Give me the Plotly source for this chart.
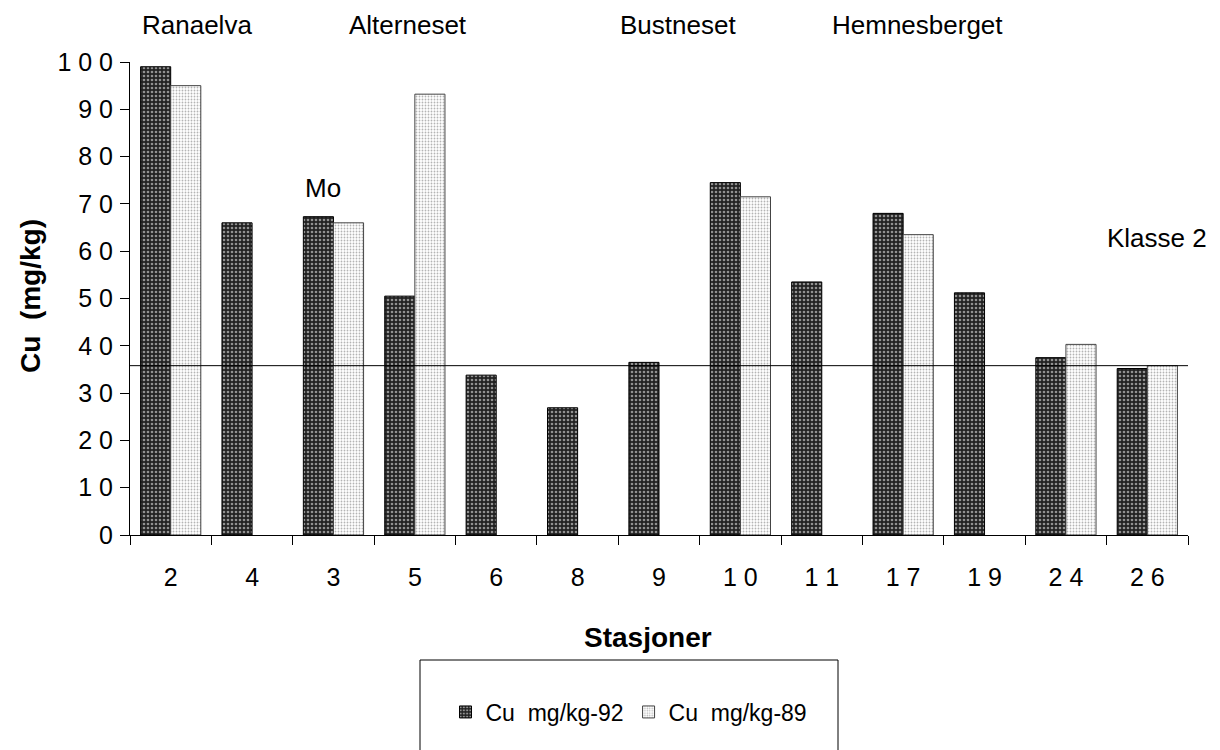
import plotly.graph_objects as go

stations = ["2", "4", "3", "5", "6", "8", "9", "10", "11", "17", "19", "24", "26"]
cu_92 = [99, 66, 67.3, 50.5, 33.8, 26.9, 36.5, 74.5, 53.5, 68, 51.2, 37.5, 35.2]
cu_89 = [95, None, 66, 93.2, None, None, None, 71.5, None, 63.5, None, 40.3, 35.8]
klasse2 = 35.8
y_ticks = [0, 10, 20, 30, 40, 50, 60, 70, 80, 90, 100]
y_tick_labels = ["0", "1 0", "2 0", "3 0", "4 0", "5 0", "6 0", "7 0", "8 0", "9 0", "1 0 0"]
x_tick_labels = ["2", "4", "3", "5", "6", "8", "9", "1 0", "1 1", "1 7", "1 9", "2 4", "2 6"]
site_labels = ["Ranaelva", "Alterneset", "Bustneset", "Hemnesberget"]
site_pos = [0.0633, 0.263, 0.518, 0.744]

FONT = "Liberation Sans, Arial, sans-serif"
L, R, T, B = 122, 40, 54, 223
PW, PH = 1220 - L - R, 750 - T - B


def px_x(fx):
    return (fx - L) / PW


def px_y(fy):
    return (750 - B - fy) / PH


fig = go.Figure()
fig.add_trace(go.Bar(
    x=stations, y=cu_92, name="Cu  mg/kg-92",
    marker=dict(color="#222222", line=dict(color="black", width=1),
                pattern=dict(shape=".", fgcolor="white", size=4, solidity=0.35)),
))
fig.add_trace(go.Bar(
    x=stations, y=cu_89, name="Cu  mg/kg-89",
    marker=dict(color="white", line=dict(color="#444", width=1),
                pattern=dict(shape=".", fgcolor="#6a6a6a", size=3, solidity=0.3)),
))

fig.add_shape(type="line", xref="paper", yref="y", x0=0, x1=1, y0=klasse2, y1=klasse2,
              line=dict(color="black", width=1))

for lab, px in zip(site_labels, site_pos):
    fig.add_annotation(text=lab, xref="paper", yref="paper", x=px, y=1.0, yshift=37,
                       yanchor="middle", xanchor="center", showarrow=False,
                       font=dict(size=26, color="black", family=FONT))
fig.add_annotation(text="Mo", xref="paper", yref="y", x=px_x(315), y=73.4, showarrow=False,
                   yanchor="middle", xanchor="center",
                   font=dict(size=26, color="black", family=FONT))
fig.add_annotation(text="Klasse 2", xref="paper", yref="y", x=px_x(1149), y=62.8,
                   showarrow=False, yanchor="middle", xanchor="center",
                   font=dict(size=26, color="black", family=FONT))
fig.add_annotation(text="<b>Cu  (mg/kg)</b>", xref="paper", yref="paper", x=px_x(22), y=px_y(288),
                   textangle=-90, showarrow=False, xanchor="center", yanchor="middle",
                   font=dict(size=28, color="black", family=FONT))
fig.add_annotation(text="<b>Stasjoner</b>", xref="paper", yref="paper", x=px_x(640), y=px_y(629),
                   showarrow=False, xanchor="center", yanchor="middle",
                   font=dict(size=28, color="black", family=FONT))

# legend box
fig.add_shape(type="rect", xref="paper", yref="paper",
              x0=px_x(412), x1=px_x(830), y0=px_y(746), y1=px_y(652),
              line=dict(color="black", width=1), fillcolor="rgba(0,0,0,0)")

fig.update_layout(
    width=1220, height=750,
    margin=dict(l=L, r=R, t=T, b=B),
    paper_bgcolor="white", plot_bgcolor="white",
    barmode="group", bargap=0.26, bargroupgap=0.0,
    font=dict(family=FONT, color="black"),
    showlegend=True,
    legend=dict(orientation="h", xref="paper", yref="paper",
                x=px_x(621), xanchor="center",
                y=px_y(704), yanchor="middle",
                font=dict(size=23, family=FONT), bgcolor="rgba(0,0,0,0)",
                traceorder="normal"),
)
fig.update_xaxes(
    tickvals=stations, ticktext=x_tick_labels, tickson="boundaries",
    ticks="outside", ticklen=9, tickcolor="black",
    showline=True, linecolor="black", linewidth=1,
    tickfont=dict(size=25, family=FONT), ticklabelstandoff=20,
    showgrid=False,
)
fig.update_yaxes(
    range=[0, 100], tickvals=y_ticks, ticktext=y_tick_labels,
    ticks="outside", ticklen=9, tickcolor="black",
    showline=True, linecolor="black", linewidth=1,
    tickfont=dict(size=25, family=FONT), ticklabelstandoff=2,
    showgrid=False, zeroline=False,
)

fig.write_html("out.html")
